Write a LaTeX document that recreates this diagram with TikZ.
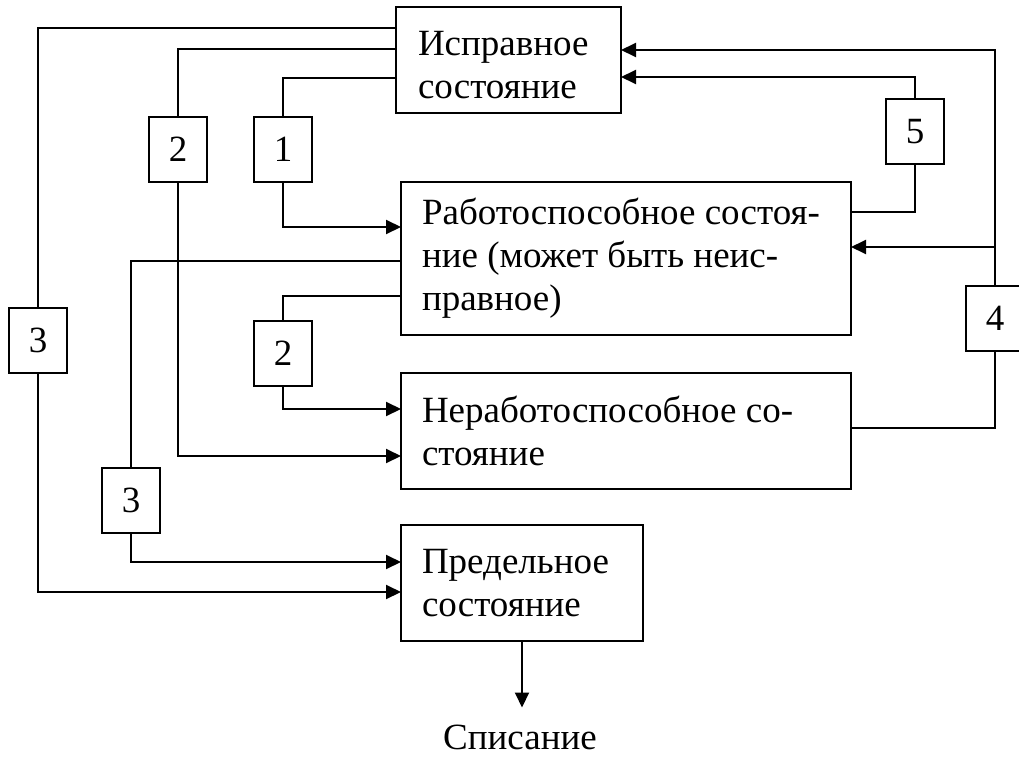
\documentclass[tikz,border=0pt]{standalone}
\usepackage{fontspec}
\setmainfont{Liberation Serif}
\usetikzlibrary{arrows.meta}

\begin{document}
\begin{tikzpicture}[x=1pt, y=-1pt, line width=2pt,
    >={Triangle[length=15pt, width=14pt]},
    font=\fontsize{37}{43}\selectfont,
    state/.style={draw, anchor=north west, align=flush left, inner xsep=21pt, inner ysep=0pt, outer sep=0pt},
    num/.style={draw, minimum width=58pt, minimum height=65pt, inner sep=0pt, outer sep=0pt}]
    \useasboundingbox (0,0) rectangle (1019,757);

    \node[state, inner xsep=22pt, text width=181pt, minimum height=106pt] (ok) at (396,7) {\rule{0pt}{34pt}Исправное\\состояние};
    \node[state, text width=408pt, minimum height=153pt] (work) at (401,182) {Работоспособное~состоя-\\ние~(может~быть~неис-\\правное)};
    \node[state, text width=408pt, minimum height=116pt] (fail) at (401,373) {Неработоспособное~со-\\стояние};
    \node[state, text width=200pt, minimum height=116pt] (lim) at (401,525) {Предельное\\состояние};
    \node[inner ysep=16pt, anchor=base] (off) at (520,749) {Списание};

    \node[num] (t3a) at (38,340.5) {3};
    \node[num] (t2a) at (178,149.5) {2};
    \node[num] (t1) at (283,149.5) {1};
    \node[num] (t2b) at (283,353.5) {2};
    \node[num] (t3b) at (131,500.5) {3};
    \node[num] (t4) at (995,318.5) {4};
    \node[num] (t5) at (915,131.5) {5};

    \draw (ok.west |- 0,28) -| (t3a.north);
    \draw[->] (t3a.south) |- (lim.west |- 0,592);
    \draw (ok.west |- 0,49) -| (t2a.north);
    \draw[->] (t2a.south) |- (fail.west |- 0,456);
    \draw (ok.west |- 0,78) -| (t1.north);
    \draw[->] (t1.south) |- (work.west |- 0,227);

    \draw (work.west |- 0,261) -| (t3b.north);
    \draw[->] (t3b.south) |- (lim.west |- 0,562);
    \draw (work.west |- 0,296) -| (t2b.north);
    \draw[->] (t2b.south) |- (fail.west |- 0,409);

    \draw (fail.east |- 0,428) -| (t4.south);
    \draw[->] (t4.north) |- (ok.east |- 0,50);
    \draw[->] (t4.north |- 0,247) -- (work.east |- 0,247);
    \draw (work.east |- 0,212) -| (t5.south);
    \draw[->] (t5.north) |- (ok.east |- 0,77);

    \draw[->] (lim.south) -- (lim.south |- off.north);
\end{tikzpicture}
\end{document}
